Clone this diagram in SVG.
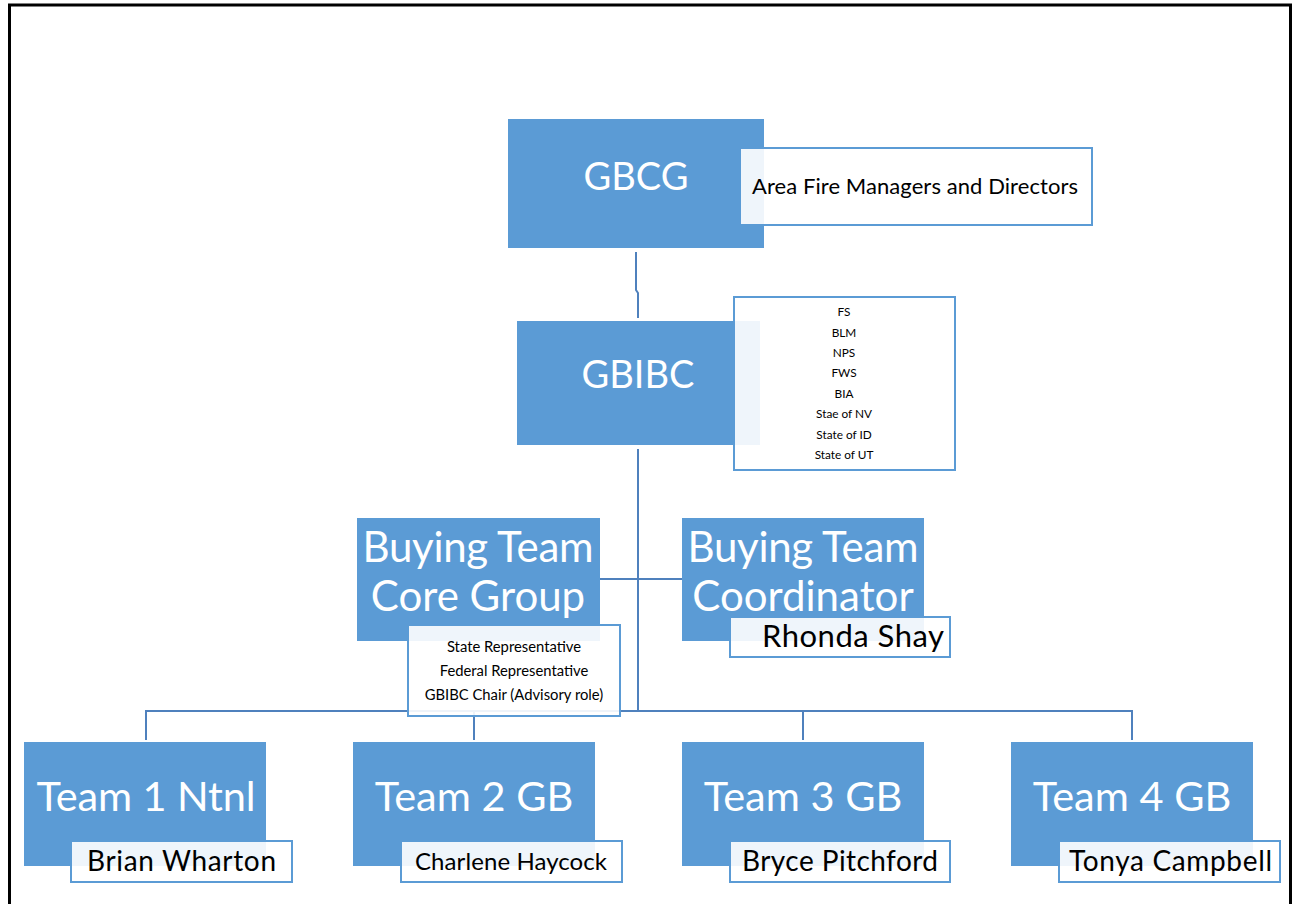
<svg xmlns="http://www.w3.org/2000/svg" width="1293" height="904" viewBox="0 0 1293 904">
<style>
.node{fill:#5B9BD5;}
.tag{fill:#FFFFFF;fill-opacity:0.9;stroke:#5B9BD5;stroke-width:2;}
.conn{fill:none;stroke:#4F81BD;stroke-width:2;}
.big{font-family:Lato,"Open Sans",sans-serif;fill:#FFFFFF;text-anchor:middle;}
.lbl{font-family:Lato,"Open Sans",sans-serif;fill:#000000;text-anchor:middle;}
</style>
<rect x="0" y="0" width="1293" height="904" fill="#FFFFFF"/>
<rect x="9.5" y="5" width="1281" height="910" fill="none" stroke="#000000" stroke-width="3"/>
<g id="connectors">
<path class="conn" d="M636,252 V290 L638,293 V318"/>
<path class="conn" d="M638,449 V711"/>
<path class="conn" d="M600,579 H682"/>
<path class="conn" d="M146,740 V711 H1132 V740"/>
<path class="conn" d="M474,711 V740"/>
<path class="conn" d="M803,711 V740"/>
</g>
<g id="gbcg">
<rect class="node" x="508" y="119" width="256" height="129"/>
<text class="big" x="636" y="190" font-size="38">GBCG</text>
</g>
<g id="area-fire">
<rect class="tag" x="740" y="148" width="352" height="77"/>
<text class="lbl" x="915" y="194" font-size="22" textLength="326">Area Fire Managers and Directors</text>
</g>
<g id="gbibc">
<rect class="node" x="517" y="321" width="243" height="124"/>
<text class="big" x="638" y="388" font-size="38">GBIBC</text>
</g>
<g id="agencies">
<rect class="tag" x="734" y="297" width="221" height="173"/>
<g class="lbl" font-size="11.8">
<text x="844" y="316">FS</text>
<text x="844" y="337">BLM</text>
<text x="844" y="357">NPS</text>
<text x="844" y="377">FWS</text>
<text x="844" y="398">BIA</text>
<text x="844" y="418">Stae of NV</text>
<text x="844" y="439">State of ID</text>
<text x="844" y="459">State of UT</text>
</g>
</g>
<g id="core-group">
<rect class="node" x="357" y="518" width="243" height="123"/>
<text class="big" x="478" y="562" font-size="42" textLength="231">Buying Team</text>
<text class="big" x="478" y="611" font-size="42">Core Group</text>
</g>
<g id="core-members">
<rect class="tag" x="408" y="625" width="212" height="91"/>
<g class="lbl" font-size="14.8">
<text x="514" y="652">State Representative</text>
<text x="514" y="676">Federal Representative</text>
<text x="514" y="700">GBIBC Chair (Advisory role)</text>
</g>
</g>
<g id="coordinator">
<rect class="node" x="682" y="518" width="242" height="123"/>
<text class="big" x="803" y="562" font-size="42" textLength="231">Buying Team</text>
<text class="big" x="803" y="611" font-size="42">Coordinator</text>
</g>
<g id="rhonda">
<rect class="tag" x="730" y="617" width="220" height="40"/>
<text class="lbl" x="853" y="647" font-size="31" textLength="182">Rhonda Shay</text>
</g>
<g id="team1">
<rect class="node" x="24" y="742" width="242" height="124"/>
<text class="big" x="146" y="811" font-size="41.5" textLength="219">Team 1 Ntnl</text>
</g>
<g id="brian">
<rect class="tag" x="71" y="841" width="221" height="41"/>
<text class="lbl" x="181.5" y="871" font-size="28" textLength="189">Brian Wharton</text>
</g>
<g id="team2">
<rect class="node" x="353" y="742" width="242" height="124"/>
<text class="big" x="474" y="811" font-size="41.5">Team 2 GB</text>
</g>
<g id="charlene">
<rect class="tag" x="401" y="841" width="221" height="41"/>
<text class="lbl" x="511" y="870" font-size="24" textLength="192">Charlene Haycock</text>
</g>
<g id="team3">
<rect class="node" x="682" y="742" width="242" height="124"/>
<text class="big" x="803" y="811" font-size="41.5">Team 3 GB</text>
</g>
<g id="bryce">
<rect class="tag" x="730" y="841" width="220" height="41"/>
<text class="lbl" x="840" y="871" font-size="28" textLength="196">Bryce Pitchford</text>
</g>
<g id="team4">
<rect class="node" x="1011" y="742" width="242" height="124"/>
<text class="big" x="1132" y="811" font-size="41.5">Team 4 GB</text>
</g>
<g id="tonya">
<rect class="tag" x="1059" y="841" width="221" height="41"/>
<text class="lbl" x="1170.5" y="871" font-size="28" textLength="203">Tonya Campbell</text>
</g>
</svg>
